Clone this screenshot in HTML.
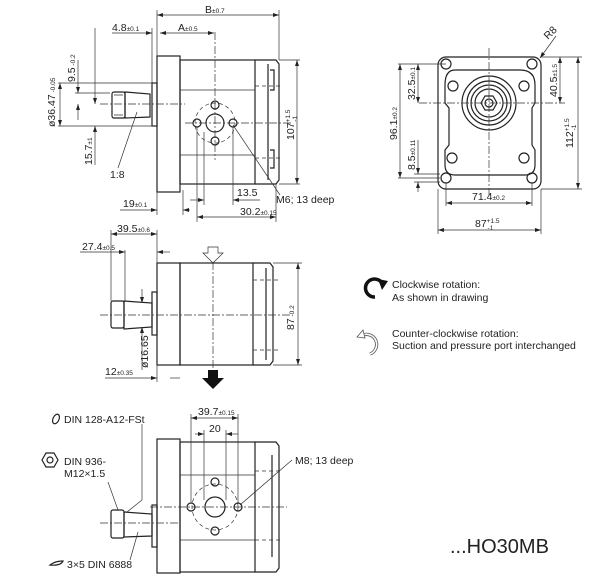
<!DOCTYPE html>
<html><head><meta charset="utf-8"><style>
html,body{margin:0;padding:0;background:#fff;}
svg{display:block;font-family:"Liberation Sans",sans-serif;}
.l{stroke:#222;stroke-width:1.2;fill:none}
.t{stroke:#333;stroke-width:.7;fill:none}
.c{stroke:#333;stroke-width:.7;fill:none;stroke-dasharray:8 2 2 2}
.d{stroke:#333;stroke-width:.7;fill:none;stroke-dasharray:4 3}
text{font-size:10.5px;fill:#222}
.s{font-size:6.5px}
</style></head><body>
<svg width="600" height="586" viewBox="0 0 600 586" xmlns="http://www.w3.org/2000/svg">
<defs>
<marker id="a" markerWidth="6" markerHeight="6" refX="6" refY="3" orient="auto-start-reverse" markerUnits="userSpaceOnUse"><path d="M0,1 L6,3 L0,5z" fill="#222"/></marker>
</defs>

<!-- ========== TOP SIDE VIEW ========== -->
<rect class="l" x="157" y="56" width="23" height="136"/>
<rect class="l" x="180" y="60" width="75" height="124"/>
<path class="l" d="M255,60 H276 L279,64 V180 L276,184 H255"/>
<path class="l" d="M268,64 V180 M270,70 h4 v20 h-4 M270,150 h4 v18 h-4"/>
<line class="t" x1="180" y1="90" x2="255" y2="90"/>
<line class="t" x1="180" y1="155" x2="255" y2="155"/>
<line class="d" x1="255" y1="86" x2="282" y2="86"/>
<line class="d" x1="255" y1="158" x2="282" y2="158"/>
<rect class="l" x="152" y="83" width="5" height="43"/>
<path class="l" d="M125,92 L150,94 V117 L125,118z"/>
<rect class="l" x="112" y="92" width="13" height="26" rx="2"/>
<path class="t" d="M114,95 h9 M114,115 h9"/>
<line class="c" x1="100" y1="104" x2="185" y2="104"/>
<line class="c" x1="185" y1="123" x2="292" y2="123"/>
<line class="c" x1="215" y1="32" x2="215" y2="160"/>
<circle class="d" cx="215" cy="123" r="20"/>
<circle class="l" cx="215" cy="123" r="9"/>
<circle class="l" cx="197" cy="123" r="4"/><circle class="l" cx="233" cy="123" r="4"/>
<circle class="l" cx="215" cy="105" r="4"/><circle class="l" cx="215" cy="141" r="4"/>
<line class="t" x1="157" y1="10" x2="157" y2="56"/>
<line class="t" x1="279" y1="10" x2="279" y2="60"/>
<line class="t" x1="157" y1="15" x2="279" y2="15" marker-start="url(#a)" marker-end="url(#a)"/>
<text x="205" y="13">B<tspan class="s">±0.7</tspan></text>
<line class="t" x1="160" y1="33" x2="214" y2="33" marker-start="url(#a)" marker-end="url(#a)"/>
<text x="178" y="31">A<tspan class="s">±0.5</tspan></text>
<line class="t" x1="112" y1="33" x2="152" y2="33" marker-end="url(#a)"/>
<line class="t" x1="152" y1="28" x2="152" y2="83"/>
<text x="112" y="31">4.8<tspan class="s">±0.1</tspan></text>
<line class="t" x1="279" y1="60" x2="300" y2="60"/><line class="t" x1="279" y1="184" x2="300" y2="184"/>
<line class="t" x1="297" y1="60" x2="297" y2="184" marker-start="url(#a)" marker-end="url(#a)"/>
<text transform="translate(294,140) rotate(-90)">107<tspan class="s" dy="-4">+1.5</tspan><tspan class="s" dx="-12" dy="7">-1</tspan></text>
<line class="t" x1="58" y1="83" x2="152" y2="83"/><line class="t" x1="58" y1="126" x2="152" y2="126"/>
<line class="t" x1="60" y1="83" x2="60" y2="126" marker-start="url(#a)" marker-end="url(#a)"/>
<text transform="translate(55,127) rotate(-90)">ø36.47<tspan class="s"> -0.05</tspan></text>
<line class="t" x1="75" y1="93" x2="110" y2="93"/>
<line class="t" x1="78" y1="60" x2="78" y2="93" marker-end="url(#a)"/>
<line class="t" x1="78" y1="104" x2="78" y2="120" marker-start="url(#a)"/>
<text transform="translate(75,82) rotate(-90)">9.5<tspan class="s"> -0.2</tspan></text>
<line class="t" x1="95" y1="28" x2="95" y2="104" marker-end="url(#a)"/>
<line class="t" x1="95" y1="126" x2="95" y2="165" marker-start="url(#a)"/>
<text transform="translate(92,165) rotate(-90)">15.7<tspan class="s">±1</tspan></text>
<line class="t" x1="137" y1="112" x2="118" y2="168"/>
<text x="110" y="178">1:8</text>
<line class="t" x1="233" y1="125" x2="280" y2="195"/>
<text x="276" y="203">M6; 13 deep</text>
<line class="t" x1="197" y1="127" x2="197" y2="222"/>
<line class="t" x1="204" y1="132" x2="204" y2="205"/>
<line class="t" x1="233" y1="127" x2="233" y2="205"/>
<line class="t" x1="190" y1="200" x2="204" y2="200" marker-end="url(#a)"/>
<line class="t" x1="233" y1="200" x2="260" y2="200" marker-start="url(#a)"/>
<text x="237" y="196">13.5</text>
<line class="t" x1="157" y1="192" x2="157" y2="215"/><line class="t" x1="183" y1="190" x2="183" y2="215"/>
<line class="t" x1="120" y1="210" x2="157" y2="210" marker-end="url(#a)"/>
<line class="t" x1="183" y1="210" x2="190" y2="210" marker-start="url(#a)"/>
<text x="123" y="207">19<tspan class="s">±0.1</tspan></text>
<line class="t" x1="197" y1="217" x2="276" y2="217" marker-start="url(#a)" marker-end="url(#a)"/>
<line class="t" x1="276" y1="184" x2="276" y2="222"/>
<text x="240" y="215">30.2<tspan class="s">±0.15</tspan></text>

<!-- ========== FLANGE VIEW ========== -->
<rect class="l" x="438" y="57" width="103" height="132" rx="8"/>
<path class="l" d="M455,70 H520 Q535,70 535,85 V103 L532,108 V145 L535,150 V165 Q535,175 525,175 H455 Q445,175 445,165 V150 L449,145 V108 L445,103 V85 Q445,70 455,70z"/>
<circle class="l" cx="489" cy="103" r="27"/>
<circle class="l" cx="489" cy="103" r="22"/>
<circle class="l" cx="489" cy="103" r="18"/>
<circle class="l" cx="489" cy="103" r="14"/>
<polygon class="l" points="497,103 493,110 485,110 481,103 485,96 493,96"/>
<circle class="l" cx="489" cy="103" r="4"/>
<line class="c" x1="419" y1="103" x2="565" y2="103"/>
<line class="c" x1="489" y1="48" x2="489" y2="195"/>
<g class="l">
<circle cx="446" cy="64" r="5"/><circle cx="532" cy="64" r="5"/>
<circle cx="453" cy="86" r="5"/><circle cx="524" cy="86" r="5"/>
<circle cx="452" cy="158" r="5"/><circle cx="524" cy="158" r="5"/>
<circle cx="446" cy="178" r="5"/><circle cx="532" cy="178" r="5"/>
</g>
<line class="t" x1="541" y1="57" x2="582" y2="57"/><line class="t" x1="541" y1="189" x2="582" y2="189"/>
<line class="t" x1="578" y1="57" x2="578" y2="189" marker-start="url(#a)" marker-end="url(#a)"/>
<text transform="translate(573,148) rotate(-90)">112<tspan class="s" dy="-4">+1.5</tspan><tspan class="s" dx="-12" dy="7">-1</tspan></text>
<line class="t" x1="560" y1="57" x2="560" y2="103" marker-start="url(#a)" marker-end="url(#a)"/>
<text transform="translate(557,97) rotate(-90)">40.5<tspan class="s">±1.5</tspan></text>
<text transform="translate(548,40) rotate(-45)">R8</text>
<line class="t" x1="556" y1="36" x2="540" y2="58" marker-end="url(#a)"/>
<line class="t" x1="398" y1="64" x2="446" y2="64"/>
<line class="t" x1="398" y1="178" x2="440" y2="178"/>
<line class="t" x1="400" y1="64" x2="400" y2="178" marker-start="url(#a)" marker-end="url(#a)"/>
<text transform="translate(397,140) rotate(-90)">96.1<tspan class="s">±0.2</tspan></text>
<line class="t" x1="418" y1="64" x2="418" y2="103" marker-start="url(#a)" marker-end="url(#a)"/>
<text transform="translate(415,100) rotate(-90)">32.5<tspan class="s">±0.1</tspan></text>
<line class="t" x1="414" y1="174" x2="440" y2="174"/><line class="t" x1="414" y1="182" x2="440" y2="182"/>
<line class="t" x1="418" y1="140" x2="418" y2="174" marker-end="url(#a)"/>
<line class="t" x1="418" y1="182" x2="418" y2="192" marker-start="url(#a)"/>
<text transform="translate(415,170) rotate(-90)">8.5<tspan class="s">±0.11</tspan></text>
<line class="t" x1="446" y1="183" x2="446" y2="206"/><line class="t" x1="532" y1="183" x2="532" y2="206"/>
<line class="t" x1="446" y1="203" x2="532" y2="203" marker-start="url(#a)" marker-end="url(#a)"/>
<text x="472" y="200">71.4<tspan class="s">±0.2</tspan></text>
<line class="t" x1="438" y1="189" x2="438" y2="234"/><line class="t" x1="541" y1="189" x2="541" y2="234"/>
<line class="t" x1="438" y1="230" x2="541" y2="230" marker-start="url(#a)" marker-end="url(#a)"/>
<text x="475" y="227">87<tspan class="s" dy="-4">+1.5</tspan><tspan class="s" dx="-12" dy="7">-1</tspan></text>

<!-- ========== MIDDLE VIEW ========== -->
<rect class="l" x="157" y="263" width="23" height="102"/>
<rect class="l" x="180" y="263" width="73" height="102"/>
<path class="l" d="M253,263 H270 L273,267 V361 L270,365 H253"/>
<path class="l" d="M266,268 V360"/>
<line class="d" x1="253" y1="280" x2="278" y2="280"/>
<line class="d" x1="253" y1="350" x2="278" y2="350"/>
<rect class="l" x="152" y="292" width="5" height="43"/>
<path class="l" d="M124,301 L152,303 V327 L124,329z"/>
<rect class="l" x="111" y="301" width="13" height="27" rx="2"/>
<line class="c" x1="100" y1="315" x2="290" y2="315"/>
<line class="c" x1="213" y1="262" x2="213" y2="370"/>
<path class="t" d="M208,247 h10 v6 h5 l-10,10 l-10,-10 h5z" fill="#fff"/>
<path d="M208,370 h10 v8 h6 l-11,11 l-11,-11 h6z" fill="#111"/>
<line class="t" x1="273" y1="263" x2="302" y2="263"/><line class="t" x1="273" y1="365" x2="302" y2="365"/>
<line class="t" x1="298" y1="263" x2="298" y2="365" marker-start="url(#a)" marker-end="url(#a)"/>
<text transform="translate(294,330) rotate(-90)">87<tspan class="s"> -0.2</tspan></text>
<line class="t" x1="111" y1="230" x2="111" y2="301"/><line class="t" x1="157" y1="230" x2="157" y2="263"/>
<line class="t" x1="111" y1="234" x2="157" y2="234" marker-start="url(#a)" marker-end="url(#a)"/>
<text x="117" y="232">39.5<tspan class="s">±0.6</tspan></text>
<line class="t" x1="125" y1="250" x2="125" y2="301"/>
<line class="t" x1="80" y1="252" x2="125" y2="252" marker-end="url(#a)"/>
<line class="t" x1="157" y1="252" x2="170" y2="252" marker-start="url(#a)"/>
<text x="82" y="250">27.4<tspan class="s">±0.5</tspan></text>
<line class="t" x1="142" y1="289" x2="142" y2="303" marker-end="url(#a)"/>
<line class="t" x1="142" y1="327" x2="142" y2="370" marker-start="url(#a)"/>
<text transform="translate(148,368) rotate(-90)">ø16.65</text>
<line class="t" x1="157" y1="365" x2="157" y2="382"/>
<line class="t" x1="105" y1="378" x2="157" y2="378" marker-end="url(#a)"/>
<line class="t" x1="180" y1="378" x2="170" y2="378"/>
<text x="105" y="375">12<tspan class="s">±0.35</tspan></text>

<!-- rotation legend -->
<path d="M375,297 A9,9 0 1 1 383,285" stroke="#111" stroke-width="3.5" fill="none"/>
<path d="M378,279 L388,281 L382,290z" fill="#111"/>
<text x="392" y="288">Clockwise rotation:</text>
<text x="392" y="301">As shown in drawing</text>
<path d="M363,335 A10,10 0 1 1 370,354" stroke="#555" stroke-width="3.2" fill="none"/>
<path d="M363,335 A10,10 0 1 1 370,354" stroke="#fff" stroke-width="1.6" fill="none"/>
<path d="M357,337 l6,-7 l2,8z" fill="#fff" stroke="#555" stroke-width=".8"/>
<text x="392" y="337">Counter-clockwise rotation:</text>
<text x="392" y="349">Suction and pressure port interchanged</text>

<!-- ========== BOTTOM VIEW ========== -->
<rect class="l" x="157" y="439" width="23" height="134"/>
<rect class="l" x="180" y="442" width="75" height="130"/>
<path class="l" d="M255,442 H276 L279,446 V568 L276,572 H255"/>
<path class="l" d="M272,455 V557"/>
<line class="t" x1="180" y1="475" x2="255" y2="475"/>
<line class="t" x1="180" y1="540" x2="255" y2="540"/>
<line class="d" x1="255" y1="471" x2="282" y2="471"/>
<line class="d" x1="255" y1="540" x2="282" y2="540"/>
<rect class="l" x="152" y="505" width="5" height="42"/>
<path class="l" d="M124,512 L152,514 V536 L124,537z"/>
<rect class="l" x="111" y="510" width="13" height="28" rx="2"/>
<line class="c" x1="100" y1="523" x2="180" y2="523"/>
<line class="c" x1="150" y1="507" x2="287" y2="507"/>
<circle class="d" cx="215" cy="507" r="23"/>
<circle class="l" cx="215" cy="507" r="10"/>
<circle class="l" cx="191" cy="507" r="4"/><circle class="l" cx="238" cy="507" r="4"/>
<circle class="l" cx="215" cy="482" r="4"/><circle class="l" cx="215" cy="531" r="4"/>
<line class="t" x1="191" y1="414" x2="191" y2="503"/><line class="t" x1="238" y1="414" x2="238" y2="503"/>
<line class="t" x1="191" y1="418" x2="238" y2="418" marker-start="url(#a)" marker-end="url(#a)"/>
<text x="198" y="415">39.7<tspan class="s">±0.15</tspan></text>
<line class="t" x1="204" y1="430" x2="204" y2="500"/><line class="t" x1="226" y1="430" x2="226" y2="500"/>
<line class="t" x1="195" y1="434" x2="204" y2="434" marker-end="url(#a)"/>
<line class="t" x1="226" y1="434" x2="238" y2="434" marker-start="url(#a)"/>
<text x="209" y="432">20</text>
<line class="t" x1="240" y1="505" x2="292" y2="460"/>
<text x="295" y="464">M8; 13 deep</text>
<line class="t" x1="142" y1="424" x2="142" y2="500"/>
<line class="t" x1="142" y1="500" x2="127" y2="512"/>
<ellipse class="l" cx="56" cy="419" rx="3" ry="5" transform="rotate(25 56 419)"/>
<text x="64" y="423">DIN 128-A12-FSt</text>
<polygon class="l" points="58,460 54,467 46,467 42,460 46,453 54,453" fill="#ccc"/>
<circle class="l" cx="50" cy="460" r="3" fill="#555"/>
<text x="64" y="465">DIN 936-</text>
<text x="64" y="477">M12×1.5</text>
<line class="t" x1="108" y1="482" x2="118" y2="510"/>
<path class="l" d="M50,565 q5,-4 13,-4 q-2,5 -13,4z"/>
<text x="67" y="568">3×5 DIN 6888</text>
<line class="t" x1="130" y1="560" x2="138" y2="532"/>

<text x="450" y="553" style="font-size:20px">...HO30MB</text>
</svg>
</body></html>
